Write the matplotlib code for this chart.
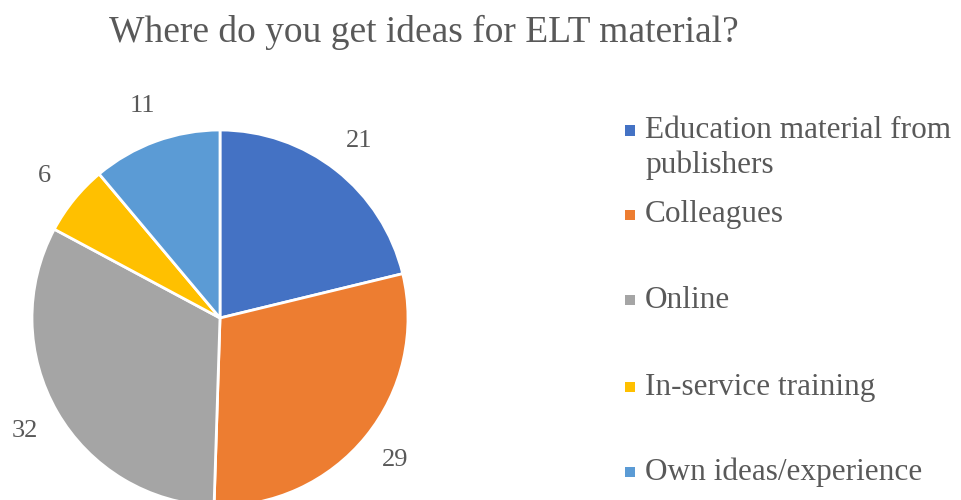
import matplotlib
matplotlib.use("Agg")
import matplotlib.pyplot as plt
from matplotlib.patches import Rectangle

categories = ["Education material from\npublishers", "Colleagues", "Online",
              "In-service training", "Own ideas/experience"]
values = [21, 29, 32, 6, 11]
colors = ["#4472C4", "#ED7D31", "#A5A5A5", "#FFC000", "#5B9BD5"]
title = "Where do you get ideas for ELT material?"

TXT = "#595959"
W, H = 961, 500
fig = plt.figure(figsize=(W / 100, H / 100), dpi=100)
plt.rcParams["font.family"] = ["Liberation Serif", "DejaVu Serif"]

cx, cy, r = 220, 318, 188
ax = fig.add_axes([(cx - r) / W, (H - cy - r) / H, 2 * r / W, 2 * r / H])
wedges, texts = ax.pie(values, colors=colors, startangle=90, counterclock=False,
                       labels=[str(v) for v in values], labeldistance=1.2,
                       wedgeprops=dict(edgecolor="white", linewidth=2),
                       textprops=dict(color=TXT, fontsize=19))
for t in texts:
    t.set_ha("center")
    t.set_va("center")
ax.set_xlim(-1, 1)
ax.set_ylim(-1, 1)
ax.set_aspect("equal")
ax.axis("off")

fig.text(424 / W, 1 - 32 / H, title, ha="center", va="center", color=TXT, fontsize=27)

leg_y = [148, 215, 300, 387, 472]
for lab, col, y in zip(categories, colors, leg_y):
    lines = lab.split("\n")
    first_y = y - (len(lines) - 1) * 17.5
    fig.patches.append(Rectangle((625 / W, 1 - (first_y + 5) / H), 10 / W, 10 / H,
                                 transform=fig.transFigure, facecolor=col,
                                 edgecolor="none"))
    fig.text(645 / W, 1 - y / H, lab, ha="left", va="center", color=TXT,
             fontsize=22.5, linespacing=1.2)

fig.savefig("out.png", dpi=100)
